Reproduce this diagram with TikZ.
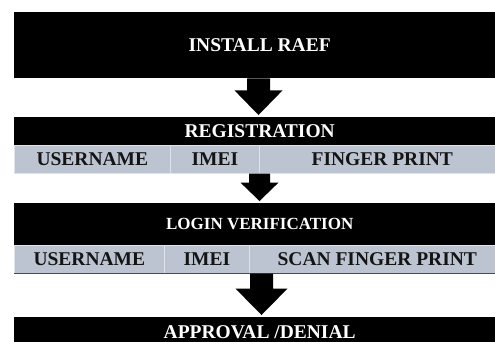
\documentclass[tikz,border=0pt]{standalone}
\usepackage{fontspec}
\setmainfont{Liberation Serif}
\usetikzlibrary{calc}
\definecolor{cellgrey}{RGB}{189,196,209}
\definecolor{celledge}{RGB}{222,226,233}
\definecolor{rowline}{RGB}{70,74,82}
% block arrow: #1 upper anchor, #2 lower anchor, #3 axis coordinate,
% #4 shaft half-width, #5 head half-width, #6 shaft length
\newcommand\blockarrow[6]{%
  \fill[flow] let \p1=(#1 -| #3), \p2=(#2 -| #3) in
    (\x1-#4pt,\y1) -- (\x1-#4pt,\y1-#6pt) -- (\x1-#5pt,\y1-#6pt)
    -- (\x2,\y2+2pt)
    -- (\x1+#5pt,\y1-#6pt) -- (\x1+#4pt,\y1-#6pt) -- (\x1+#4pt,\y1) -- cycle;}
\begin{document}
\begin{tikzpicture}[x=1pt,y=-1pt,
  bigfont/.style={font=\bfseries\fontsize{19.5}{22}\selectfont},
  bar/.style={bigfont, fill=black, text=white, inner sep=0pt, anchor=north west, minimum width=491pt},
  cell/.style={bigfont, fill=cellgrey, draw=celledge, line width=0.6pt, text=black!92,
    inner sep=0pt, anchor=north west, minimum height=28pt},
  flow/.style={fill=black}]
\useasboundingbox (0,0) rectangle (495,341);
\clip (0,0) rectangle (495,341);

% stages
\node[bar, minimum height=66pt] (install) at (14,12) {INSTALL RAEF};
\node[bar, minimum height=28pt] (reg) at (14,117) {REGISTRATION};
\node[cell, minimum width=156pt] (user1) at (14,145) {USERNAME};
\node[cell, minimum width=89pt]  (imei1) at (170,145) {IMEI};
\node[cell, minimum width=246pt] (fp1)   at (259,145) {FINGER PRINT};

\node[bar, minimum height=42pt, font=\bfseries\fontsize{17}{19}\selectfont] (login) at (14,203) {LOGIN VERIFICATION};
\node[cell, minimum width=150pt] (user2) at (14,245) {USERNAME};
\node[cell, minimum width=85pt]  (imei2) at (164,245) {IMEI};
\node[cell, minimum width=256pt] (fp2)   at (249,245) {SCAN FINGER PRINT};
\draw[rowline, line width=0.9pt] (user2.south west) -- (fp2.south east);

\node[bar, minimum height=29pt] (result) at (14,317) {APPROVAL /DENIAL};

% arrow axes
\coordinate (ax1) at (258.5,0);
\coordinate (ax2) at (259.5,0);
\coordinate (ax3) at (261.5,0);

% connectors between stages
\blockarrow{install.south}{reg.north}{ax1}{11.5}{24}{12}
\blockarrow{fp1.south}{login.north}{ax2}{10.5}{19}{9}
\blockarrow{fp2.south}{result.north}{ax3}{11.5}{26}{15}
\end{tikzpicture}
\end{document}
